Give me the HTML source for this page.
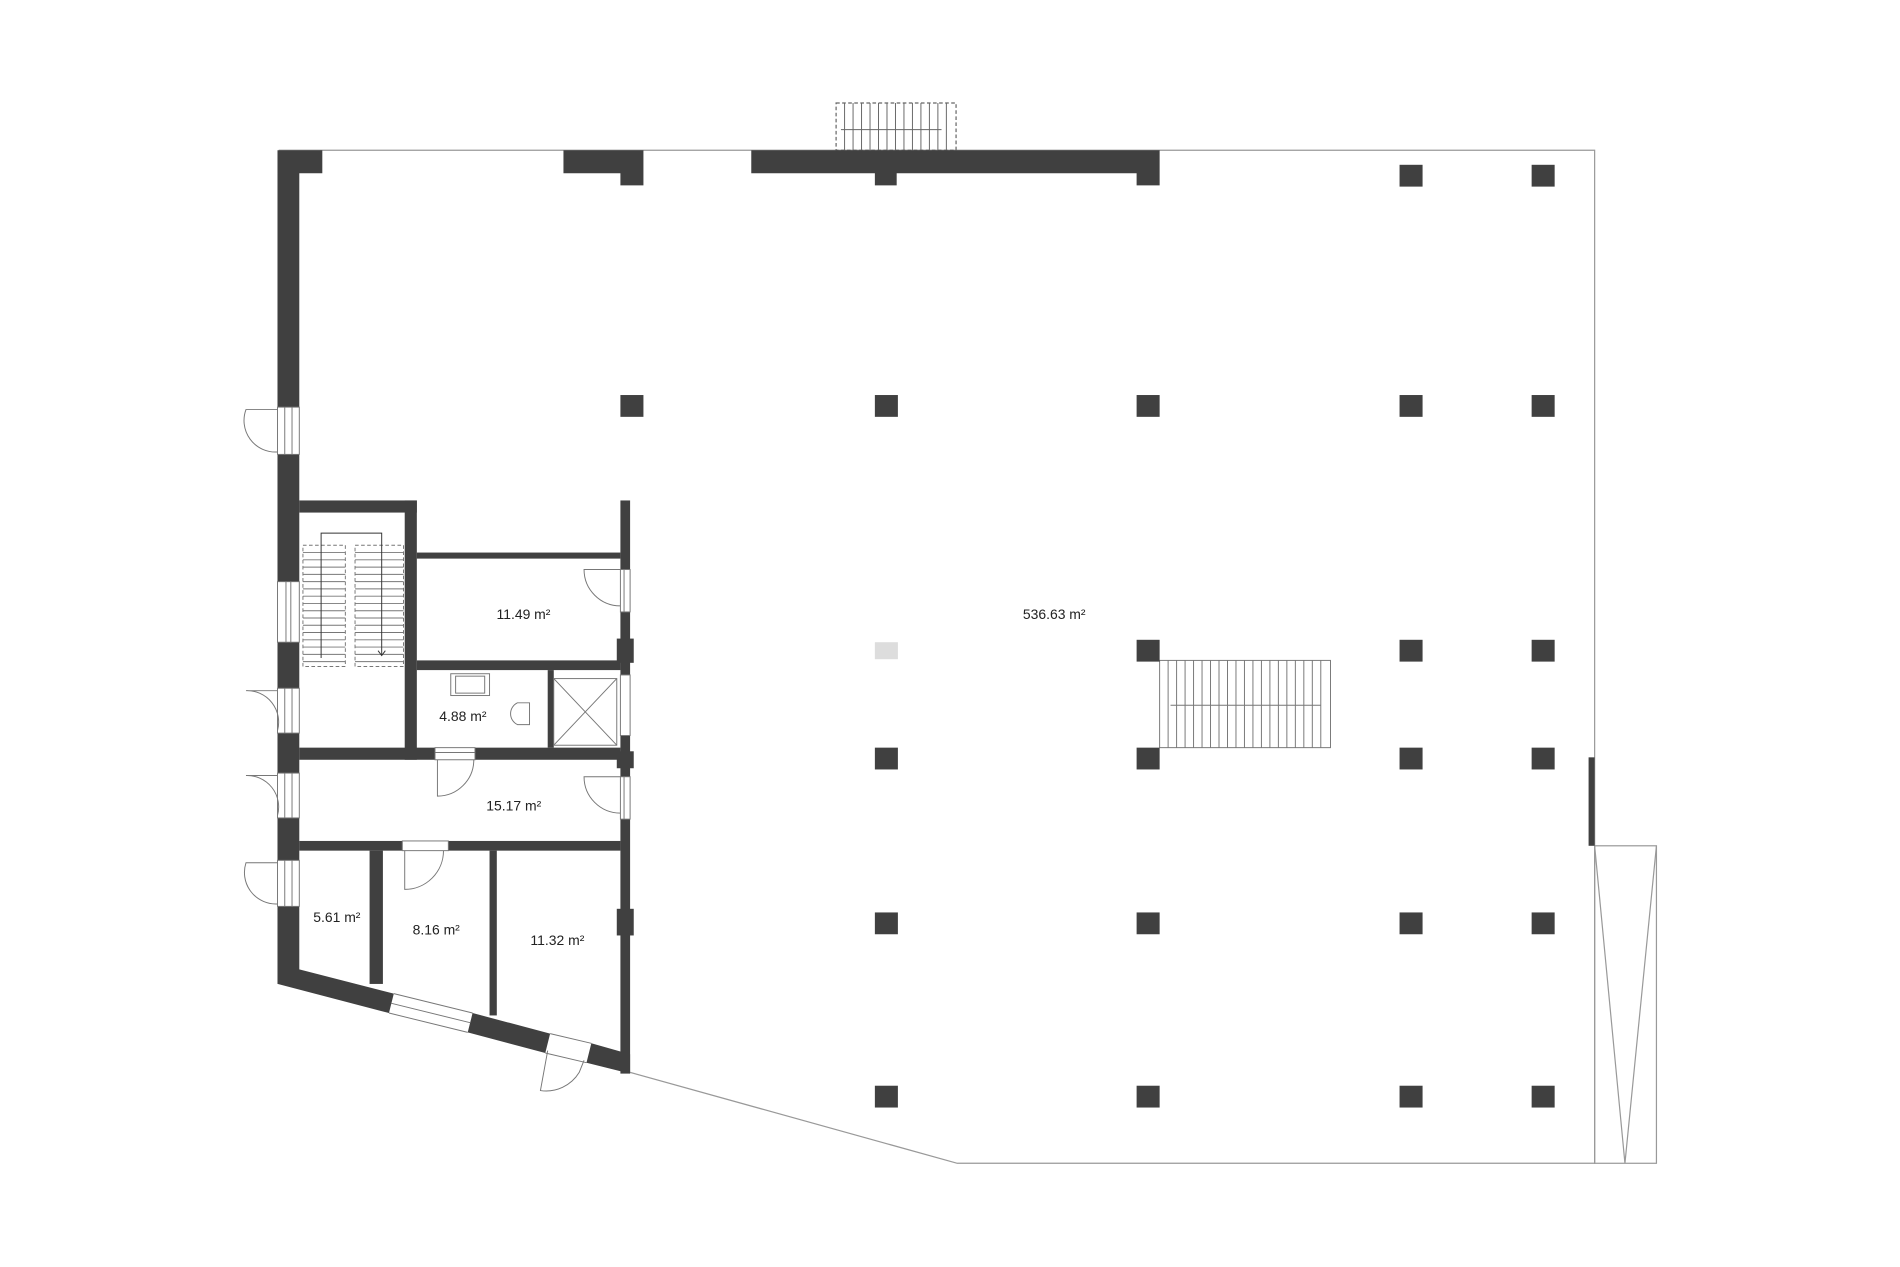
<!DOCTYPE html>
<html><head><meta charset="utf-8"><style>
html,body{margin:0;padding:0;background:#fff;width:1900px;height:1267px;overflow:hidden}
svg{display:block}
text{font-family:"Liberation Sans",sans-serif;font-size:11.5px;fill:#222}
</style></head><body>
<svg width="1900" height="1267" viewBox="0 0 1568 1045.6" preserveAspectRatio="none">
<g fill="none" stroke="#999" stroke-width="1">
<path d="M230 124 H1316 V960 H790 L520 885"/>
<!-- ramp -->
<rect x="1316" y="698" width="51" height="262"/>
<path d="M1316 698 L1341 960 L1367 698"/>
<!-- top stair -->
<rect x="690" y="85" width="99" height="39" stroke-dasharray="3,2" stroke="#666"/>
</g>
<g stroke="#666" stroke-width="0.8">
<path d="M697 85v39M704 85v39M711 85v39M718 85v39M725 85v39M732 85v39M739 85v39M746 85v39M753 85v39M760 85v39M767 85v39M774 85v39M781 85v39"/>
<path d="M694 107 H777"/>
</g>
<!-- central stair -->
<g stroke="#777" stroke-width="0.8" fill="none">
<rect x="957" y="545" width="141" height="72"/>
<path d="M964 545v72M971 545v72M978 545v72M985 545v72M992 545v72M999 545v72M1006 545v72M1013 545v72M1020 545v72M1027 545v72M1034 545v72M1041 545v72M1048 545v72M1055 545v72M1062 545v72M1069 545v72M1076 545v72M1083 545v72M1090 545v72"/>
<path d="M1090 582 H966"/>
</g>
<g fill="#404040">
<!-- top walls -->
<path d="M229 124 H266 V143 H247 V336 H229 Z"/>
<path d="M465 124 H531 V153 H512 V143 H465 Z"/>
<path d="M620 124 H957 V153 H938 V143 H740 V153 H722 V143 H620 Z"/>
<!-- left wall segments -->
<rect x="229" y="375" width="18" height="105"/>
<rect x="229" y="530" width="18" height="38"/>
<rect x="229" y="605" width="18" height="33"/>
<rect x="229" y="675" width="18" height="35"/>
<rect x="229" y="748" width="18" height="64"/>
<!-- bottom diagonal wall -->
<path d="M229 812 L321 836 L325 820 L247 800 Z"/>
<path d="M386 852 L450 869 L454 853 L390 836 Z"/>
<path d="M484 877 L520 886 L520 870 L488 861 Z"/>
<!-- stair box -->
<rect x="247" y="413" width="97" height="10"/>
<rect x="334" y="413" width="10" height="214"/>
<!-- right wall of wing -->
<rect x="512" y="413" width="8" height="57"/>
<rect x="512" y="505" width="8" height="52"/>
<rect x="509" y="527" width="14" height="20"/>
<rect x="512" y="607" width="8" height="34"/>
<rect x="509" y="620" width="14" height="14"/>
<rect x="512" y="676" width="8" height="210"/>
<rect x="509" y="750" width="14" height="22"/>
<!-- horizontal walls -->
<rect x="344" y="456" width="168" height="5"/>
<rect x="344" y="545" width="168" height="8"/>
<rect x="452" y="553" width="5" height="64"/>
<rect x="247" y="617" width="112" height="10"/>
<rect x="392" y="617" width="120" height="10"/>
<rect x="247" y="694" width="85" height="8"/>
<rect x="370" y="694" width="142" height="8"/>
<rect x="305" y="702" width="11" height="110"/>
<rect x="404" y="702" width="6" height="136"/>
<!-- columns -->
<rect x="512" y="326" width="19" height="18"/>
<rect x="722" y="326" width="19" height="18"/>
<rect x="938" y="326" width="19" height="18"/>
<rect x="1155" y="326" width="19" height="18"/>
<rect x="1264" y="326" width="19" height="18"/>
<rect x="1155" y="136" width="19" height="18"/>
<rect x="1264" y="136" width="19" height="18"/>
<rect x="938" y="528" width="19" height="18"/>
<rect x="1155" y="528" width="19" height="18"/>
<rect x="1264" y="528" width="19" height="18"/>
<rect x="722" y="617" width="19" height="18"/>
<rect x="938" y="617" width="19" height="18"/>
<rect x="1155" y="617" width="19" height="18"/>
<rect x="1264" y="617" width="19" height="18"/>
<rect x="722" y="753" width="19" height="18"/>
<rect x="938" y="753" width="19" height="18"/>
<rect x="1155" y="753" width="19" height="18"/>
<rect x="1264" y="753" width="19" height="18"/>
<rect x="722" y="896" width="19" height="18"/>
<rect x="938" y="896" width="19" height="18"/>
<rect x="1155" y="896" width="19" height="18"/>
<rect x="1264" y="896" width="19" height="18"/>
<rect x="1311" y="625" width="5" height="73"/>
</g>
<rect x="722" y="530" width="19" height="14" fill="#ddd"/>
<!-- doors/windows -->
<g fill="none" stroke="#777" stroke-width="0.8">
<rect x="229" y="336" width="18" height="39"/><path d="M235 336v39M241 336v39"/>
<path d="M229 338 H203 A26 26 0 0 0 229 373"/>
<rect x="229" y="480" width="18" height="50"/><path d="M236 480v50M240 480v50"/>
<rect x="229" y="568" width="18" height="37"/><path d="M235 568v37M241 568v37"/>
<path d="M229 570 H203 A26 26 0 0 1 229 603"/>
<rect x="229" y="638" width="18" height="37"/><path d="M235 638v37M241 638v37"/>
<path d="M229 640 H203 A26 26 0 0 1 229 673"/>
<rect x="229" y="710" width="18" height="38"/><path d="M235 710v38M241 710v38"/>
<path d="M229 712 H203 A26 26 0 0 0 229 746"/>
<rect x="512" y="470" width="8" height="35"/><path d="M515 470v35"/>
<path d="M512 470 H482 A30 30 0 0 0 512 500"/>
<rect x="512" y="557" width="8" height="50"/>
<rect x="512" y="641" width="8" height="35"/><path d="M515 641v35"/>
<path d="M512 641 H482 A30 30 0 0 0 512 671"/>
<rect x="359" y="617" width="33" height="10"/><path d="M359 621h33"/>
<path d="M361 627 V657 A30 30 0 0 0 391 627"/>
<rect x="332" y="694" width="38" height="8"/>
<path d="M334 702 V734 A32 32 0 0 0 366 702"/>
<path d="M321 836 L386 852 M325 820 L390 836 M323 828 L388 844"/>
<path d="M450 869 L484 877 M454 853 L488 861"/>
<path d="M452 867 L446 900 A32 32 0 0 0 478 885 L482 875"/>
<!-- bathroom -->
<rect x="457" y="560" width="52" height="55"/>
<path d="M457 560 L509 615 M509 560 L457 615"/>
<rect x="372" y="556" width="32" height="18"/><rect x="376" y="558" width="24" height="14"/>
<path d="M437 580 H427 A10 10 0 0 0 427 598 H437 Z"/>
<!-- stair -->
<rect x="250" y="450" width="35" height="100" stroke-dasharray="3,2"/>
<rect x="293" y="450" width="40" height="100" stroke-dasharray="3,2"/>
<path d="M250 456h35M250 462h35M250 468h35M250 474h35M250 480h35M250 486h35M250 492h35M250 498h35M250 504h35M250 510h35M250 516h35M250 522h35M250 528h35M250 534h35M250 540h35M250 546h35"/>
<path d="M293 456h40M293 462h40M293 468h40M293 474h40M293 480h40M293 486h40M293 492h40M293 498h40M293 504h40M293 510h40M293 516h40M293 522h40M293 528h40M293 534h40M293 540h40M293 546h40"/>
<path d="M265 543 V440 H315 V541 M312 537 L315 541 L318 537" stroke="#333"/>
</g>
<text x="432" y="511" text-anchor="middle">11.49 m²</text>
<text x="382" y="595" text-anchor="middle">4.88 m²</text>
<text x="424" y="669" text-anchor="middle">15.17 m²</text>
<text x="278" y="761" text-anchor="middle">5.61 m²</text>
<text x="360" y="771" text-anchor="middle">8.16 m²</text>
<text x="460" y="780" text-anchor="middle">11.32 m²</text>
<text x="870" y="511" text-anchor="middle">536.63 m²</text>
</svg>
</body></html>
